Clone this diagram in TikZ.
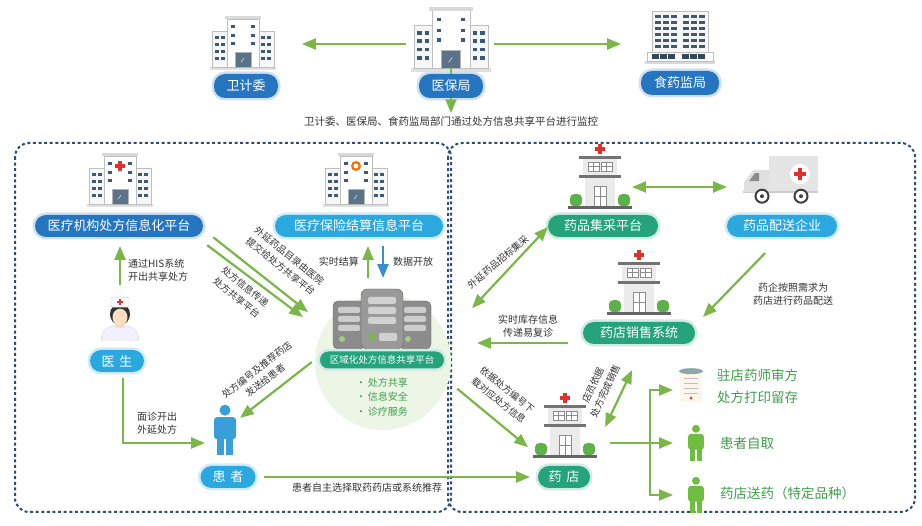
\documentclass[tikz,border=0pt]{standalone}
\usepackage{fontspec}
\setmainfont{Noto Sans CJK SC}
\usetikzlibrary{arrows}

\definecolor{arrowgreen}{HTML}{7AB648}
\definecolor{pillblue}{HTML}{2675C0}
\definecolor{pillsky}{HTML}{2BA8DF}
\definecolor{pillgreen}{HTML}{25A37A}
\definecolor{framecol}{HTML}{2E4F73}
\definecolor{notegray}{HTML}{333333}
\definecolor{labelgreen}{HTML}{3E9E4A}
\definecolor{winblue}{HTML}{3D5975}
\definecolor{crossred}{HTML}{E0322B}
\definecolor{hazegreen}{HTML}{EDF5E6}
\definecolor{bushgreen}{HTML}{5DB04A}
\definecolor{patientblue}{HTML}{3A9FD8}
\definecolor{downblue}{HTML}{3A8CCF}

\tikzset{
  % office block, origin in the middle of its base
  office/.pic={
    \fill[black!12] (-33,0) rectangle (33,3);
    \filldraw[draw=black!25,fill=black!3] (-31,0) rectangle (-15,-36);
    \filldraw[draw=black!25,fill=black!3] (15,0) rectangle (31,-36);
    \filldraw[draw=black!25,fill=white] (-16,0) rectangle (16,-48);
    \fill[black!15] (-18,-48) rectangle (18,-51);
    \foreach \x in {-28,-22,18,24}
      \foreach \y in {-31,-24,-17,-10}
        \fill[winblue] (\x,\y) rectangle ++(4,3);
    \foreach \x in {-12,8}
      \foreach \y in {-42,-33,-25}
        \fill[winblue] (\x,\y) rectangle ++(4,3);
    \filldraw[draw=black!30,fill=winblue!85] (-8,0) rectangle (8,-15);
    \draw[white,thin] (-2,-5) -- (1,-9);
  },
  redcross/.pic={
    \fill[crossred] (-2,-5) rectangle (2,5);
    \fill[crossred] (-5,-2) rectangle (5,2);
  },
  badge/.pic={
    \fill[orange!85!red] (0,0) circle (5);
    \fill[white] (0,0) circle (2.5);
  },
  tower/.pic={
    \fill[black!15] (-35,0) rectangle (35,3);
    \filldraw[draw=black!25,fill=white] (-33,0) rectangle (33,-9);
    \filldraw[draw=black!25,fill=black!3] (-28,-9) rectangle (28,-50);
    \foreach \x in {-25,-17,-9,3,11,19}
      \foreach \y in {-46,-40,-34,-28,-22,-16}
        \fill[winblue] (\x,\y) rectangle ++(6,3);
    \foreach \x in {-28,-20,-12,2,10,18}
      \fill[winblue!80!black] (\x,-7) rectangle ++(7,5);
  },
  clinic/.pic={
    \fill[crossred] (-2,-62) rectangle (2,-52);
    \fill[crossred] (-5,-59) rectangle (5,-55);
    \fill[black!55] (-21,-50) rectangle (21,-47.5);
    \fill[black!8] (-17,-47.5) rectangle (17,-31);
    \foreach \x in {-12,1}{
      \filldraw[draw=black!45,fill=white] (\x,-44) rectangle ++(11,9);
      \draw[black!45] (\x+5.5,-44) -- ++(0,9) (\x,-39.5) -- ++(11,0);
    }
    \fill[black!55] (-21,-31) rectangle (21,-28.5);
    \fill[black!8] (-15,-28.5) rectangle (15,0);
    \filldraw[draw=black!45,fill=white] (-6,-20) rectangle (6,0);
    \draw[black!45] (0,-20) -- (0,0) (-6,-10) -- (6,-10);
    \fill[bushgreen,rounded corners=4] (-30,0) rectangle (-18,-12);
    \fill[bushgreen,rounded corners=4] (18,0) rectangle (30,-12);
    \fill[black!60] (-32,0) rectangle (32,2.5);
  },
  server/.pic={
    \foreach \x in {-33,33}{
      \filldraw[draw=black!60,fill=black!45,rounded corners=5] (\x-16,0) rectangle (\x+16,-48);
      \foreach \y in {-42,-33,-24}
        \fill[black!20,rounded corners=1.5] (\x-11,\y) rectangle (\x+11,\y+6);
      \fill[arrowgreen!70] (\x-7,-10) circle (3);
    }
    \filldraw[draw=black!60,fill=black!40,rounded corners=6] (-21,0) rectangle (21,-60);
    \foreach \y in {-52,-42,-32}
      \fill[black!18,rounded corners=2] (-14,\y) rectangle (14,\y+7);
    \fill[arrowgreen] (-10,-12) circle (3.5);
    \fill[black!18,rounded corners=2] (-3,-16) rectangle (15,-8);
  },
  truck/.pic={
    \fill[black!10] (-12,-48) rectangle (37,-13);
    \fill[black!20] (-38,-13) rectangle (37,-11);
    \fill[black!12] (-12,-34) -- (-28,-34) -- (-37,-22) -- (-37,-12) -- (-12,-12) -- cycle;
    \fill[black!45] (-26,-31) -- (-32,-23) -- (-22,-23) -- (-22,-31) -- cycle;
    \fill[white] (19,-30) circle (10);
    \fill[crossred] (17,-36) rectangle (21,-24);
    \fill[crossred] (13,-32) rectangle (25,-28);
    \foreach \x in {-19,20}{
      \filldraw[draw=black!75,line width=2pt,fill=white] (\x,-8) circle (6.5);
      \fill[black!75] (\x,-8) circle (2);
    }
  },
  person/.pic={
    \fill (0,-45) circle (5.5);
    \fill[rounded corners=3] (-11,-38) rectangle (11,-16);
    \fill (-8,-18) rectangle (-0.8,0);
    \fill (0.8,-18) rectangle (8,0);
  },
  nurse/.pic={
    \filldraw[draw=black!15,fill=blue!6] (-19,0) .. controls (-19,-11) and (-11,-15) .. (0,-15)
      .. controls (11,-15) and (19,-11) .. (19,0) -- cycle;
    \fill[orange!30] (-4,-17) rectangle (4,-12);
    \fill[black!80] (0,-26) ellipse (10 and 11);
    \fill[orange!25!white] (0,-23) ellipse (7.5 and 8.5);
    \filldraw[draw=black!20,fill=white,rounded corners=2] (-9,-33) rectangle (9,-43);
    \fill[crossred] (-1,-41) rectangle (1,-35);
    \fill[crossred] (-3,-39) rectangle (3,-37);
  },
  rxpaper/.pic={
    \fill[orange!8] (-11,0) rectangle (11,-30);
    \fill[teal!50!black!45] (0,-31) ellipse (12 and 3);
    \foreach \y in {-24,-19,-14,-9}
      \draw[black!25] (-7,\y) -- (7,\y);
    \fill[crossred] (0,-4) circle (1.5);
  },
}

\begin{document}
\begin{tikzpicture}[x=1pt,y=-1pt,
    link/.style={draw=arrowgreen,line width=2.2pt,>=triangle 45},
    frame/.style={draw=framecol,line width=2pt,dash pattern=on 3pt off 2.6pt,rounded corners=14pt},
    icon/.style={inner sep=0pt},
    pill/.style={rounded corners=11pt,minimum height=22pt,inner sep=0pt,text=white,
        font=\fontsize{13}{13}\selectfont},
    bluepill/.style={pill,fill=pillblue,preaction={draw=pillblue!22,line width=5pt}},
    skypill/.style={pill,fill=pillsky,preaction={draw=pillsky!22,line width=5pt}},
    greenpill/.style={pill,fill=pillgreen,preaction={draw=pillgreen!22,line width=5pt}},
    note/.style={font=\fontsize{10}{12.5}\selectfont,text=notegray,align=center,inner sep=0pt},
    slant/.style={note,font=\fontsize{9.5}{13.5}\selectfont,rotate=#1},
    tag/.style={font=\fontsize{13.5}{22}\selectfont,text=labelgreen,align=left,anchor=west,inner sep=0pt}]
\useasboundingbox[fill=white] (0,0) rectangle (922,526);

% supervising bodies
\node[icon,minimum width=66pt,minimum height=54pt] (wjwB) at (243,40) {};
\pic at (wjwB.south) {office};
\node[icon,minimum width=82pt,minimum height=60pt] (ybjB) at (451,38) {};
\pic[scale=1.2] at (ybjB.south) {office};
\node[icon,minimum width=76pt,minimum height=50pt] (syjB) at (680,36) {};
\pic at (syjB.south) {tower};
\node[bluepill,minimum width=64pt,minimum height=24pt] (wjw) at (246,86) {卫计委};
\node[bluepill,minimum width=64pt,minimum height=24pt] (ybj) at (451,86) {医保局};
\node[bluepill,minimum width=78pt,minimum height=24pt] (syj) at (680,83) {食药监局};
\draw[link,->,shorten <=4pt,shorten >=26pt] ([yshift=-6pt]ybjB.west) -- ([yshift=-4pt]wjwB.east);
\draw[link,->,shorten <=2pt,shorten >=21pt] ([yshift=-6pt]ybjB.east) -- ([yshift=-8pt]syjB.west);
\node[note,font=\fontsize{10.5}{12}\selectfont] (mon) at (451,121) {卫计委、医保局、食药监局部门通过处方信息共享平台进行监控};
\draw[link] (ybjB.south) -- (ybj.north);
\draw[link,->,shorten >=3pt] (ybj.south) -- (mon.north);

% the two dotted areas
\draw[frame] (15,143) rectangle (451,512);
\draw[frame] (448,143) rectangle (915,512);

% hospital side
\fill[hazegreen] (383,362) circle (68);
\node[icon,minimum width=76pt,minimum height=50pt] (jgB) at (120,179) {};
\pic at (jgB.south) {office};
\pic at (120,166) {redcross};
\node[bluepill,minimum width=168pt] (jg) at (119,226) {医疗机构处方信息化平台};
\node[icon,minimum width=76pt,minimum height=50pt] (ybB) at (356,179) {};
\pic at (ybB.south) {office};
\pic at (356,166) {badge};
\node[skypill,minimum width=168pt] (yb) at (359,226) {医疗保险结算信息平台};

\node[icon,minimum width=40pt,minimum height=46pt] (docB) at (120,317) {};
\pic at (docB.south) {nurse};
\node[skypill,minimum width=54pt] (ys) at (117,361) {医\hspace{5pt}生};
\draw[link,->,shorten <=9pt,shorten >=9pt] (docB.north) -- (jg.south -| docB.north);
\node[note,align=left,anchor=west] (his) at (128,270) {通过HIS系统\\开出共享处方};

\node[icon,minimum width=26pt,minimum height=50pt] (hzB) at (225,430) {};
\pic[color=patientblue] at (hzB.south) {person};
\node[skypill,minimum width=55pt] (hz) at (228,477) {患\hspace{5pt}者};
\draw[link,->,shorten <=6pt,shorten >=7pt] ([xshift=6pt]ys.south) |- ([yshift=-13pt]hzB.west);
\node[note,align=left,anchor=west] (mz) at (137,423) {面诊开出\\外延处方};

% sharing platform
\node[icon,minimum width=98pt,minimum height=62pt] (svB) at (382,318) {};
\pic at ([yshift=-31pt]svB.center) {server};
\node[greenpill,minimum width=124pt,minimum height=17pt,rounded corners=8.5pt,
    font=\fontsize{9.5}{10}\selectfont] (pt) at (382,360) {区域化处方信息共享平台};
\node[font=\fontsize{10}{14.5}\selectfont,text=labelgreen,align=left] (pts) at (382,397)
    {•\,处方共享\\•\,信息安全\\•\,诊疗服务};

\draw[link,->,shorten <=9pt,shorten >=9pt] ([xshift=-14pt]svB.north) -- ([xshift=9pt]yb.south);
\draw[link,draw=downblue,->,shorten <=9pt,shorten >=9pt] ([xshift=24pt]yb.south) -- ([xshift=1pt]svB.north);
\node[note,anchor=east] (js) at (359,262) {实时结算};
\node[note,anchor=west] (kf) at (393,262) {数据开放};

\draw[link,->] ([xshift=10pt]jg.south east) -- ([shift={(-25,-6)}]svB.west);
\draw[link,->] ([shift={(4,8)}]jg.south east) -- ([shift={(-30,-1)}]svB.west);
\node[slant=-39] (wy) at (285,261) {外延药品目录由医院\\提交给处方共享平台};
\node[slant=-39] (cf) at (241,292) {处方信息传递\\处方共享平台};

\draw[link,->] ([shift={(-8,2)}]pt.west) -- ([shift={(2,13)}]hzB.north east);
\node[slant=38] (tj) at (261,375) {处方编号及推荐药店\\发送给患者};

% pharmacy side
\node[icon,minimum width=64pt,minimum height=64pt] (jcB) at (600,174) {};
\pic at (jcB.south) {clinic};
\node[greenpill,minimum width=110pt] (jc) at (603,226) {药品集采平台};
\node[icon,minimum width=74pt,minimum height=50pt] (trB) at (781,179) {};
\pic at (trB.south) {truck};
\node[skypill,minimum width=110pt] (ps) at (782,226) {药品配送企业};
\draw[link,<->,shorten >=17pt] ([yshift=-13pt]jcB.east) -- ([yshift=-8pt]trB.west);

\node[icon,minimum width=64pt,minimum height=62pt] (xsB) at (639,281) {};
\pic at (xsB.south) {clinic};
\node[greenpill,minimum width=112pt] (xs) at (639,333) {药店销售系统};
\draw[link,->] ([shift={(-17,16)}]ps.south) -- ([shift={(8,-5)}]xs.north east);
\node[note] (pssm) at (793,294) {药企按照需求为\\药店进行药品配送};

\draw[link,<->] ([yshift=10pt]jc.south west) -- ([shift={(41,-10)}]svB.east);
\node[slant=40] (zc) at (498,262) {外延药品招标集采};
\draw[link,->] ([shift={(-15,10)}]xs.west) -- ([shift={(33,-17)}]pt.east);
\node[note] (kc) at (528,326) {实时库存信息\\传递易复诊};

\node[icon,minimum width=60pt,minimum height=60pt] (ydB) at (565,425) {};
\pic at (ydB.south) {clinic};
\node[greenpill,minimum width=52pt] (yd) at (564,477) {药\hspace{5pt}店};
\draw[link,->] ([shift={(13,20)}]pt.south east) -- ([shift={(-7,22)}]ydB.west);
\node[slant=-39] (xz) at (503,395) {依据处方编号下\\载对应处方信息};
\draw[link,<->] ([shift={(-7,26)}]xs.south) -- ([shift={(10,32)}]ydB.north east);
\node[slant=65] (xs2) at (599,388) {店员依据\\处方完成销售};

\draw[link,->,shorten <=8pt,shorten >=8pt] (hz.east) -- (yd.west);
\node[note] (zx) at (367,488) {患者自主选择取药药店或系统推荐};

% three ways to get the drugs
\coordinate (fork) at (650,443);
\node[icon,minimum width=24pt,minimum height=34pt] (rxB) at (691,385) {};
\pic at (rxB.south) {rxpaper};
\node[icon,minimum width=18pt,minimum height=36pt] (p1B) at (696,443) {};
\pic[scale=0.72,color=arrowgreen!90!green] at (p1B.south) {person};
\node[icon,minimum width=18pt,minimum height=36pt] (p2B) at (696,495) {};
\pic[scale=0.72,color=arrowgreen!90!green] at (p2B.south) {person};
\draw[link,shorten <=15pt] ([yshift=-18pt]ydB.east) -- (fork);
\draw[link,->,shorten >=6pt] (fork) |- ([yshift=-5pt]rxB.west);
\draw[link,->,shorten >=14pt] (fork) -- (p1B.west);
\draw[link,->,shorten >=14pt] (fork) |- (p2B.west);
\node[tag] (sf) at (717,386) {驻店药师审方\\处方打印留存};
\node[tag] (zq) at (720,443) {患者自取};
\node[tag] (sy) at (720,493) {药店送药（特定品种）};

\end{tikzpicture}
\end{document}
